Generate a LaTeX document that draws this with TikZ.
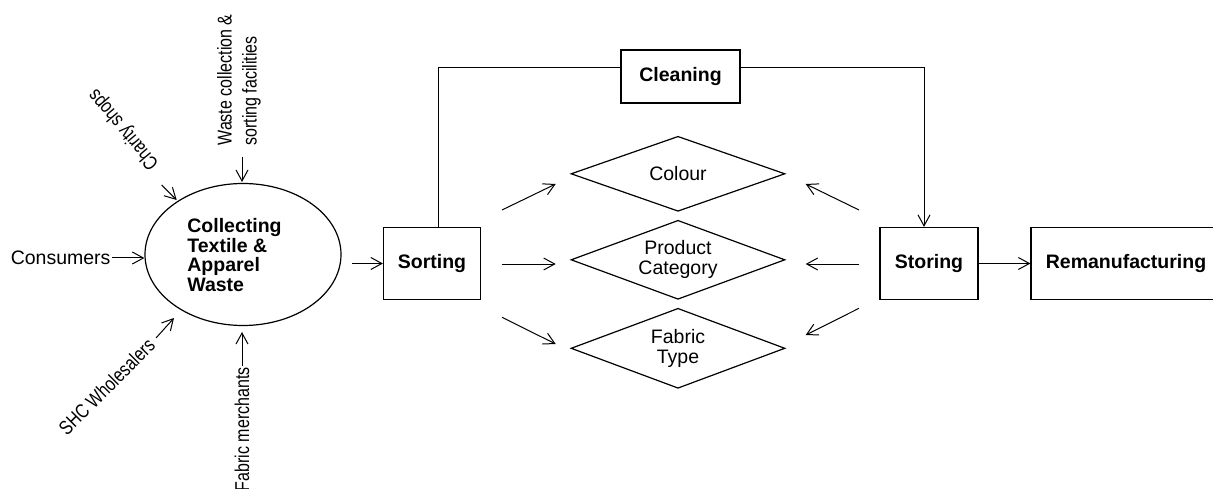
\documentclass[tikz,border=0pt]{standalone}
\usepackage{fontspec}
\setmainfont{Liberation Sans}
\newfontfamily\narrowfont[FakeStretch=0.8]{Liberation Sans}
\usetikzlibrary{shapes.geometric,arrows.meta}
\tikzset{
  every picture/.style={line width=1pt},
  arr/.style={-{Straight Barb[length=11pt,width=12pt,line width=1pt]}},
  boxnode/.style={draw,line width=1.2pt,rectangle,inner sep=0pt,font=\fontsize{19.5}{20}\selectfont\bfseries},
  dia/.style={draw,line width=1.2pt,diamond,aspect=2.7,inner sep=0pt,minimum width=214pt,align=center,font=\fontsize{19.5}{20}\selectfont},
  srctext/.style={inner sep=1pt,font=\fontsize{19.5}{20}\selectfont},
  rottext/.style={inner sep=1pt,font=\narrowfont\fontsize{20}{25}\selectfont},
}
\begin{document}
\begin{tikzpicture}[x=1pt,y=-1pt]
\useasboundingbox (0,0) rectangle (1213,489);

% central collection ellipse
\node[draw,line width=1.2pt,ellipse,minimum width=196pt,minimum height=142pt,inner sep=0pt] (ell) at (243,254.5) {};
\node[align=left,inner sep=0pt,font=\fontsize{19.5}{19.5}\selectfont\bfseries] (elltext) at (234.5,255) {Collecting\\Textile \&\\Apparel\\Waste};

% sources
\node[srctext,anchor=east] (cons) at (112,258) {Consumers};
\node[rottext,rotate=130] (charity) at (124,129) {Charity shops};
\node[rottext,rotate=90,anchor=west,align=left] (waste) at (239,147) {Waste collection \&\\sorting facilities};
\node[rottext,rotate=45] (shc) at (106.7,386.7) {SHC Wholesalers};
\node[rottext,rotate=90,anchor=east] (fabm) at (242,366) {Fabric merchants};

\coordinate (chS) at (161.7,185);
\coordinate (chE) at (176.7,200);
\coordinate (wS) at (242,157);
\coordinate (wE) at (242,182);
\coordinate (shS) at (156,338);
\coordinate (shE) at (174,318);
\coordinate (fmE) at (242,332);

\draw[arr] (cons.east) -- (cons.east -| ell.west);
\draw[arr] (chS) -- (chE);
\draw[arr] (wS) -- (wE);
\draw[arr] (shS) -- (shE);
\draw[arr] (fabm.east) -- (fmE);

% process boxes
\node[boxnode,minimum width=97pt,minimum height=72pt] (sort) at (432,263.5) {Sorting};
\node[boxnode,minimum width=119pt,minimum height=53pt] (clean) at (680.5,76.5) {Cleaning};
\node[boxnode,minimum width=98pt,minimum height=72pt] (stor) at (929,263.5) {Storing};
\node[boxnode,minimum width=190pt,minimum height=72pt] (reman) at (1126,263.5) {Remanufacturing};

\coordinate (sortIn) at (352,263.5);
\draw[arr] (sortIn) -- (sort.west);
\draw[arr] (stor.east) -- (reman.west);

\draw ([xshift=6pt]sort.north) |- ([yshift=8.8pt]clean.west);
\draw[arr] ([yshift=8.8pt]clean.east) -| ([xshift=-5pt]stor.north);

% criteria diamonds
\node[dia,minimum height=75pt] (colour) at (678,173.8) {Colour};
\node[dia,minimum height=79pt] (prod) at (678,259.8) {Product\\Category};
\node[dia,minimum height=80pt] (fabt) at (678,348.3) {Fabric\\Type};

\coordinate (a1s) at (502,210);   \coordinate (a1e) at (555.7,184);
\coordinate (a2s) at (502,264);   \coordinate (a2e) at (555.7,264);
\coordinate (a3s) at (502,317.3); \coordinate (a3e) at (555.7,344);
\coordinate (b1s) at (859,210);   \coordinate (b1e) at (805.7,184);
\coordinate (b2s) at (859,264);   \coordinate (b2e) at (805.7,264);
\coordinate (b3s) at (859,308.3); \coordinate (b3e) at (805.7,335);

\draw[arr] (a1s) -- (a1e);
\draw[arr] (a2s) -- (a2e);
\draw[arr] (a3s) -- (a3e);
\draw[arr] (b1s) -- (b1e);
\draw[arr] (b2s) -- (b2e);
\draw[arr] (b3s) -- (b3e);
\end{tikzpicture}
\end{document}
